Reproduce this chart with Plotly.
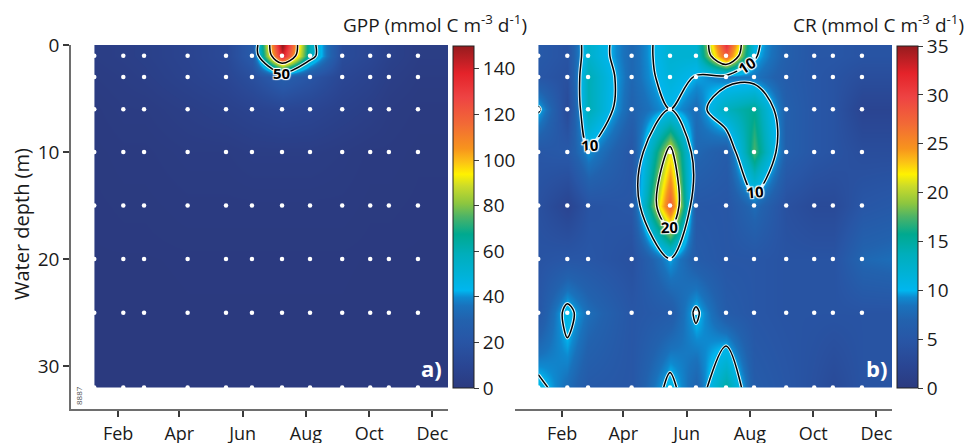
import plotly.graph_objects as go

# ---------------- data ----------------
grid_dates = ["2014-01-09", "2014-02-06", "2014-02-26", "2014-04-09", "2014-05-16",
              "2014-06-10", "2014-07-09", "2014-08-05", "2014-09-05", "2014-10-02",
              "2014-10-20", "2014-11-17", "2014-12-16"]
sample_dates = grid_dates[:12]
grid_depths = [0, 1, 3, 6, 10, 15, 20, 25, 32]
sample_depths = grid_depths[1:]

gpp_d0 = [3, 4, 5, 8, 12, 25, 152, 58, 14, 10, 6, 3, 3]
gpp_d1 = [3, 4, 5, 8, 12, 25, 140, 58, 14, 10, 6, 3, 3]
gpp_d3 = [2, 3, 4, 7, 10, 16, 28, 20, 10, 7, 4, 2, 2]
gpp_d6 = [1, 2, 2, 4, 6, 8, 10, 9, 6, 4, 2, 1, 1]
gpp_d10 = [0.5, 1, 1, 2, 2, 3, 3, 3, 2, 1, 1, 0.5, 0.5]
gpp_d15 = [0.3, 0.5, 0.5, 1, 1, 1, 1, 1, 1, 0.5, 0.5, 0.3, 0.3]
gpp_d20 = [0.2, 0.2, 0.2, 0.3, 0.3, 0.3, 0.3, 0.3, 0.3, 0.2, 0.2, 0.2, 0.2]
gpp_d25 = [0.1, 0.1, 0.1, 0.2, 0.2, 0.2, 0.2, 0.2, 0.2, 0.1, 0.1, 0.1, 0.1]
gpp_d32 = [0.1, 0.1, 0.1, 0.1, 0.1, 0.1, 0.1, 0.1, 0.1, 0.1, 0.1, 0.1, 0.1]

cr_d0 = [5.5, 4.5, 12.5, 7.5, 12, 12, 31, 10.8, 6.5, 5, 5, 4.5, 4.5]
cr_d1 = [5.5, 4.5, 12.5, 7.5, 12, 12, 28, 10.4, 6.5, 5, 5, 4.5, 4.5]
cr_d3 = [5, 4, 14, 7.5, 11.5, 9.8, 8.5, 8.5, 6, 5, 4.5, 3.5, 3.5]
cr_d6 = [10.5, 3, 14, 7, 10, 8, 13.5, 15.5, 6.6, 5, 4.5, 2, 2]
cr_d10 = [5, 5.5, 9.5, 5, 21.5, 7.5, 6, 17.5, 6.5, 5, 4.5, 3.5, 3.5]
cr_d15 = [4, 2, 4.5, 5, 28, 5.2, 5, 7.9, 4, 3, 3, 5, 5.5]
cr_d20 = [4.5, 5, 5, 4, 9.8, 6, 5, 5, 4.5, 4.5, 4.5, 7.5, 8]
cr_d25 = [5.2, 11, 8, 5, 6, 10.5, 6, 5, 4.5, 4.5, 4.5, 4.5, 4.5]
cr_d32 = [11, 8, 5.5, 5, 11, 7, 15, 6, 5, 4, 3, 4.5, 4.5]

gpp = [gpp_d0, gpp_d1, gpp_d3, gpp_d6, gpp_d10, gpp_d15, gpp_d20, gpp_d25, gpp_d32]
cr = [cr_d0, cr_d1, cr_d3, cr_d6, cr_d10, cr_d15, cr_d20, cr_d25, cr_d32]

gpp_ticks = [0, 20, 40, 60, 80, 100, 120, 140]
cr_ticks = [0, 5, 10, 15, 20, 25, 30, 35]
depth_ticks = [0, 10, 20, 30]
gpp_label_level = 50

# ---------------- style ----------------
W, H = 968, 443
FONT = "Open Sans"
TXT = "#1a1a1a"
AX = "#6e6e6e"
TK = "#3a3a3a"
HALO = "1px 1px 1px white, -1px -1px 1px white, 1px -1px 1px white, -1px 1px 1px white"

def px(x):
    return x / W

def py(y):
    return 1 - y / H

cs = [
    [0.0, "#2b3a7f"], [0.06, "#2a4592"], [0.14, "#2856a6"], [0.2, "#2262ae"],
    [0.24, "#1a72bc"], [0.265, "#0e8ad0"], [0.285, "#00b6ef"], [0.33, "#00b2d8"],
    [0.39, "#00aebc"], [0.45, "#00a98f"], [0.5, "#4bb368"], [0.54, "#8dc63f"],
    [0.59, "#cbdb2a"], [0.625, "#fff200"], [0.66, "#fcc315"], [0.70, "#f7941d"],
    [0.77, "#f26b35"], [0.85, "#ee4343"], [0.92, "#e4232a"], [1.0, "#961b1e"],
]
LABELFONT = dict(family=FONT, size=15, color="black", weight="bold", shadow=HALO)

fig = go.Figure()


def add_panel(z, zmax, ticks, xa, ya, cbx, labeled, unlabeled):
    fig.add_trace(go.Contour(
        x=grid_dates, y=grid_depths, z=z, colorscale=cs, zmin=0, zmax=zmax,
        contours=dict(coloring="heatmap", showlines=False), line=dict(width=0),
        xaxis=xa, yaxis=ya, hoverinfo="skip",
        colorbar=dict(x=px(cbx), xanchor="left", y=py(388), yanchor="bottom",
                      len=342, lenmode="pixels", thickness=21, thicknessmode="pixels",
                      outlinewidth=1, outlinecolor="#222", ticks="outside", ticklen=5,
                      tickcolor=TK, tickvals=ticks, xpad=0, ypad=0,
                      tickfont=dict(family=FONT, size=19, color=TXT)),
    ))
    levels = [(lv, True) for lv in labeled] + [(lv, False) for lv in unlabeled]
    for lv, lab in levels:
        # white halo
        fig.add_trace(go.Contour(
            x=grid_dates, y=grid_depths, z=z, autocontour=False,
            contours=dict(coloring="none", start=lv, end=lv, size=1, showlabels=False),
            line=dict(color="rgba(255,255,255,0.85)", width=3.5), showscale=False,
            xaxis=xa, yaxis=ya, hoverinfo="skip"))
        fig.add_trace(go.Contour(
            x=grid_dates, y=grid_depths, z=z, autocontour=False,
            contours=dict(coloring="none", start=lv, end=lv, size=1, showlabels=lab,
                          labelfont=LABELFONT),
            line=dict(color="black", width=1.5), showscale=False,
            xaxis=xa, yaxis=ya, hoverinfo="skip"))
    fig.add_trace(go.Scatter(
        x=[d for _ in sample_depths for d in sample_dates],
        y=[dp for dp in sample_depths for _ in sample_dates],
        mode="markers", marker=dict(color="white", size=4.5, line=dict(width=0)),
        xaxis=xa, yaxis=ya, hoverinfo="skip", showlegend=False))


add_panel(gpp, 150, gpp_ticks, "x", "y", 453, [], [gpp_label_level, 100])
add_panel(cr, 35, cr_ticks, "x2", "y2", 897, [10, 20], [])

# position of the "50" label: where the GPP peak column drops through 50 below the surface
peak_col = max(range(len(grid_dates)), key=lambda j: gpp_d1[j])
col = [row[peak_col] for row in gpp]
lab_depth = None
for i in range(len(col) - 1):
    if col[i] >= gpp_label_level > col[i + 1]:
        t = (col[i] - gpp_label_level) / (col[i] - col[i + 1])
        lab_depth = grid_depths[i] + t * (grid_depths[i + 1] - grid_depths[i])
        break

xrange = ["2013-12-17 14:00", "2014-12-16"]
xcommon = dict(type="date", range=xrange, showline=True, linecolor=AX, linewidth=1.5,
               ticks="outside", ticklen=6, tickwidth=1.5, tickcolor=TK,
               tickformat="%b", dtick="M2", tick0="2014-02-01", showgrid=False,
               zeroline=False, ticklabelstandoff=2, automargin=False,
               tickfont=dict(family=FONT, size=18, color=TXT))
ydom = [py(409), py(45)]

fig.update_layout(
    width=W, height=H, margin=dict(l=0, r=0, t=0, b=0, autoexpand=False),
    paper_bgcolor="white", plot_bgcolor="white", showlegend=False,
    font=dict(family=FONT, size=18, color=TXT),
    xaxis=dict(domain=[px(71), px(448)], anchor="y", **xcommon),
    xaxis2=dict(domain=[px(515), px(892)], anchor="y2", **xcommon),
    yaxis=dict(domain=ydom, range=[34, 0], anchor="x", showline=True, linecolor=AX,
               linewidth=1.5, ticks="outside", ticklen=6, tickwidth=1.5, tickcolor=TK,
               tickvals=depth_ticks, showgrid=False, zeroline=False, automargin=False,
               tickfont=dict(family=FONT, size=19, color=TXT)),
    yaxis2=dict(domain=ydom, range=[34, 0], anchor="x2", showline=False,
                showticklabels=False, ticks="", showgrid=False, zeroline=False),
    annotations=[
        dict(text=str(gpp_label_level), x=grid_dates[peak_col], y=lab_depth,
             xref="x", yref="y", xanchor="center", yanchor="middle", showarrow=False,
             bgcolor="rgba(0,0,0,0)", font=LABELFONT),
        dict(text="GPP (mmol C m<sup>-3</sup> d<sup>-1</sup>)", x=px(529), y=py(24),
             xref="paper", yref="paper", xanchor="right", yanchor="middle",
             showarrow=False, font=dict(family=FONT, size=19, color=TXT)),
        dict(text="CR (mmol C m<sup>-3</sup> d<sup>-1</sup>)", x=px(966), y=py(24),
             xref="paper", yref="paper", xanchor="right", yanchor="middle",
             showarrow=False, font=dict(family=FONT, size=19, color=TXT)),
        dict(text="Water depth (m)", x=px(21), y=py(224), xref="paper", yref="paper",
             xanchor="center", yanchor="middle", textangle=-90, showarrow=False,
             font=dict(family=FONT, size=20, color=TXT)),
        dict(text="<b>a)</b>", x=px(431), y=py(368), xref="paper", yref="paper",
             xanchor="center", yanchor="middle", showarrow=False,
             font=dict(family=FONT, size=22, color="white")),
        dict(text="<b>b)</b>", x=px(876), y=py(368), xref="paper", yref="paper",
             xanchor="center", yanchor="middle", showarrow=False,
             font=dict(family=FONT, size=22, color="white")),
        dict(text="8887", x=px(78), y=py(396), xref="paper", yref="paper",
             xanchor="center", yanchor="middle", textangle=-90, showarrow=False,
             font=dict(family=FONT, size=8, color="#555")),
    ],
)

fig.write_html("out.html", config={"displayModeBar": False},
               post_script="document.body.style.margin='0px';document.body.style.overflow='hidden';")
